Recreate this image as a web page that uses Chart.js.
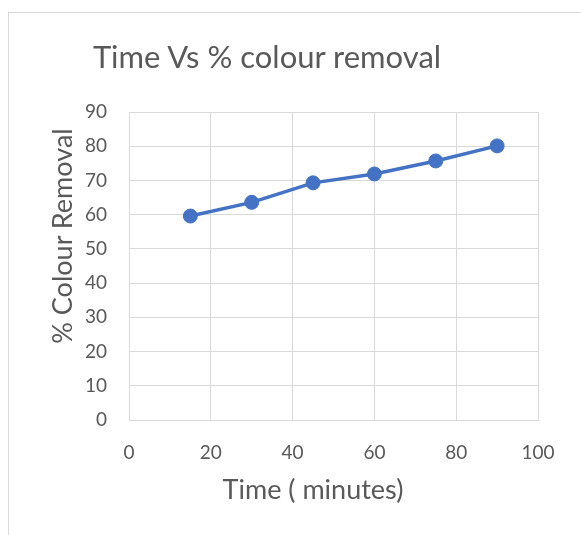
<!DOCTYPE html>
<html>
<head>
<meta charset="utf-8">
<script src="https://cdn.jsdelivr.net/npm/chart.js@4/dist/chart.umd.min.js"></script>
<style>
    html, body { margin: 0; padding: 0; background: #ffffff; }
    #wrap { position: relative; width: 581px; height: 535px; }
    .label {
        position: absolute; text-align: center; white-space: nowrap;
        font-family: Lato, "Open Sans", sans-serif; color: #595959;
    }
    #title { left: 0; top: 36px; width: 534px; font-size: 31px; line-height: 40px; }
    #xTitle { left: 163px; top: 471px; width: 300px; font-size: 27px; line-height: 36px; }
    #yTitle {
        left: -88px; top: 218px; width: 300px; font-size: 27px; line-height: 36px;
        transform: rotate(-90deg);
    }
</style>
</head>
<body>
<div id="wrap">
    <canvas id="myChart" width="581" height="535"></canvas>
    <div class="label" id="title">Time Vs % colour removal</div>
    <div class="label" id="xTitle">Time ( minutes)</div>
    <div class="label" id="yTitle">% Colour Removal</div>
</div>
<script>
// Time in minutes and % colour removal
const times = [15, 30, 45, 60, 75, 90];
const removal = [59.6, 63.6, 69.3, 71.9, 75.7, 80.1];

const xTicks = [0, 20, 40, 60, 80, 100];
const yTicks = [0, 10, 20, 30, 40, 50, 60, 70, 80, 90];

const textColor = '#595959';
const gridColor = '#d9d9d9';
const fontFamily = 'Lato, "Open Sans", sans-serif';

// Light outline around the whole chart, like the Excel chart area
const frame = {
    id: 'frame',
    beforeDraw(chart) {
        const ctx = chart.ctx;
        ctx.save();
        ctx.strokeStyle = gridColor;
        ctx.lineWidth = 1;
        ctx.strokeRect(8.5, 12.5, 800, 800);
        ctx.restore();
    }
};

const points = times.map((t, i) => ({ x: t, y: removal[i] }));

const ctx = document.getElementById('myChart').getContext('2d');
const myChart = new Chart(ctx, {
    type: 'scatter',
    data: {
        datasets: [{
            label: '% Colour Removal',
            data: points,
            showLine: true,
            borderColor: '#4472c4',
            backgroundColor: '#4472c4',
            borderWidth: 3.5,
            pointRadius: 7,
            pointBorderWidth: 1,
            pointHoverRadius: 7,
            tension: 0
        }]
    },
    options: {
        responsive: false,
        animation: false,
        layout: {
            padding: { left: 47, right: 43, top: 112, bottom: 26 }
        },
        plugins: {
            legend: { display: false },
            tooltip: { enabled: false },
            title: { display: false }
        },
        scales: {
            x: {
                type: 'linear',
                min: 0,
                max: 100,
                afterBuildTicks: axis => { axis.ticks = xTicks.map(v => ({ value: v })); },
                afterFit: axis => { axis.height = 89; },
                grid: { color: gridColor, lineWidth: 1, drawTicks: false },
                border: { color: gridColor },
                ticks: {
                    color: textColor,
                    padding: 21,
                    font: { family: fontFamily, size: 19 }
                }
            },
            y: {
                min: 0,
                max: 90,
                afterBuildTicks: axis => { axis.ticks = yTicks.map(v => ({ value: v })); },
                afterFit: axis => { axis.width = 82; },
                grid: { color: gridColor, lineWidth: 1, drawTicks: false },
                border: { color: gridColor },
                ticks: {
                    color: textColor,
                    padding: 22,
                    font: { family: fontFamily, size: 19 }
                }
            }
        }
    },
    plugins: [frame]
});
</script>
</body>
</html>
